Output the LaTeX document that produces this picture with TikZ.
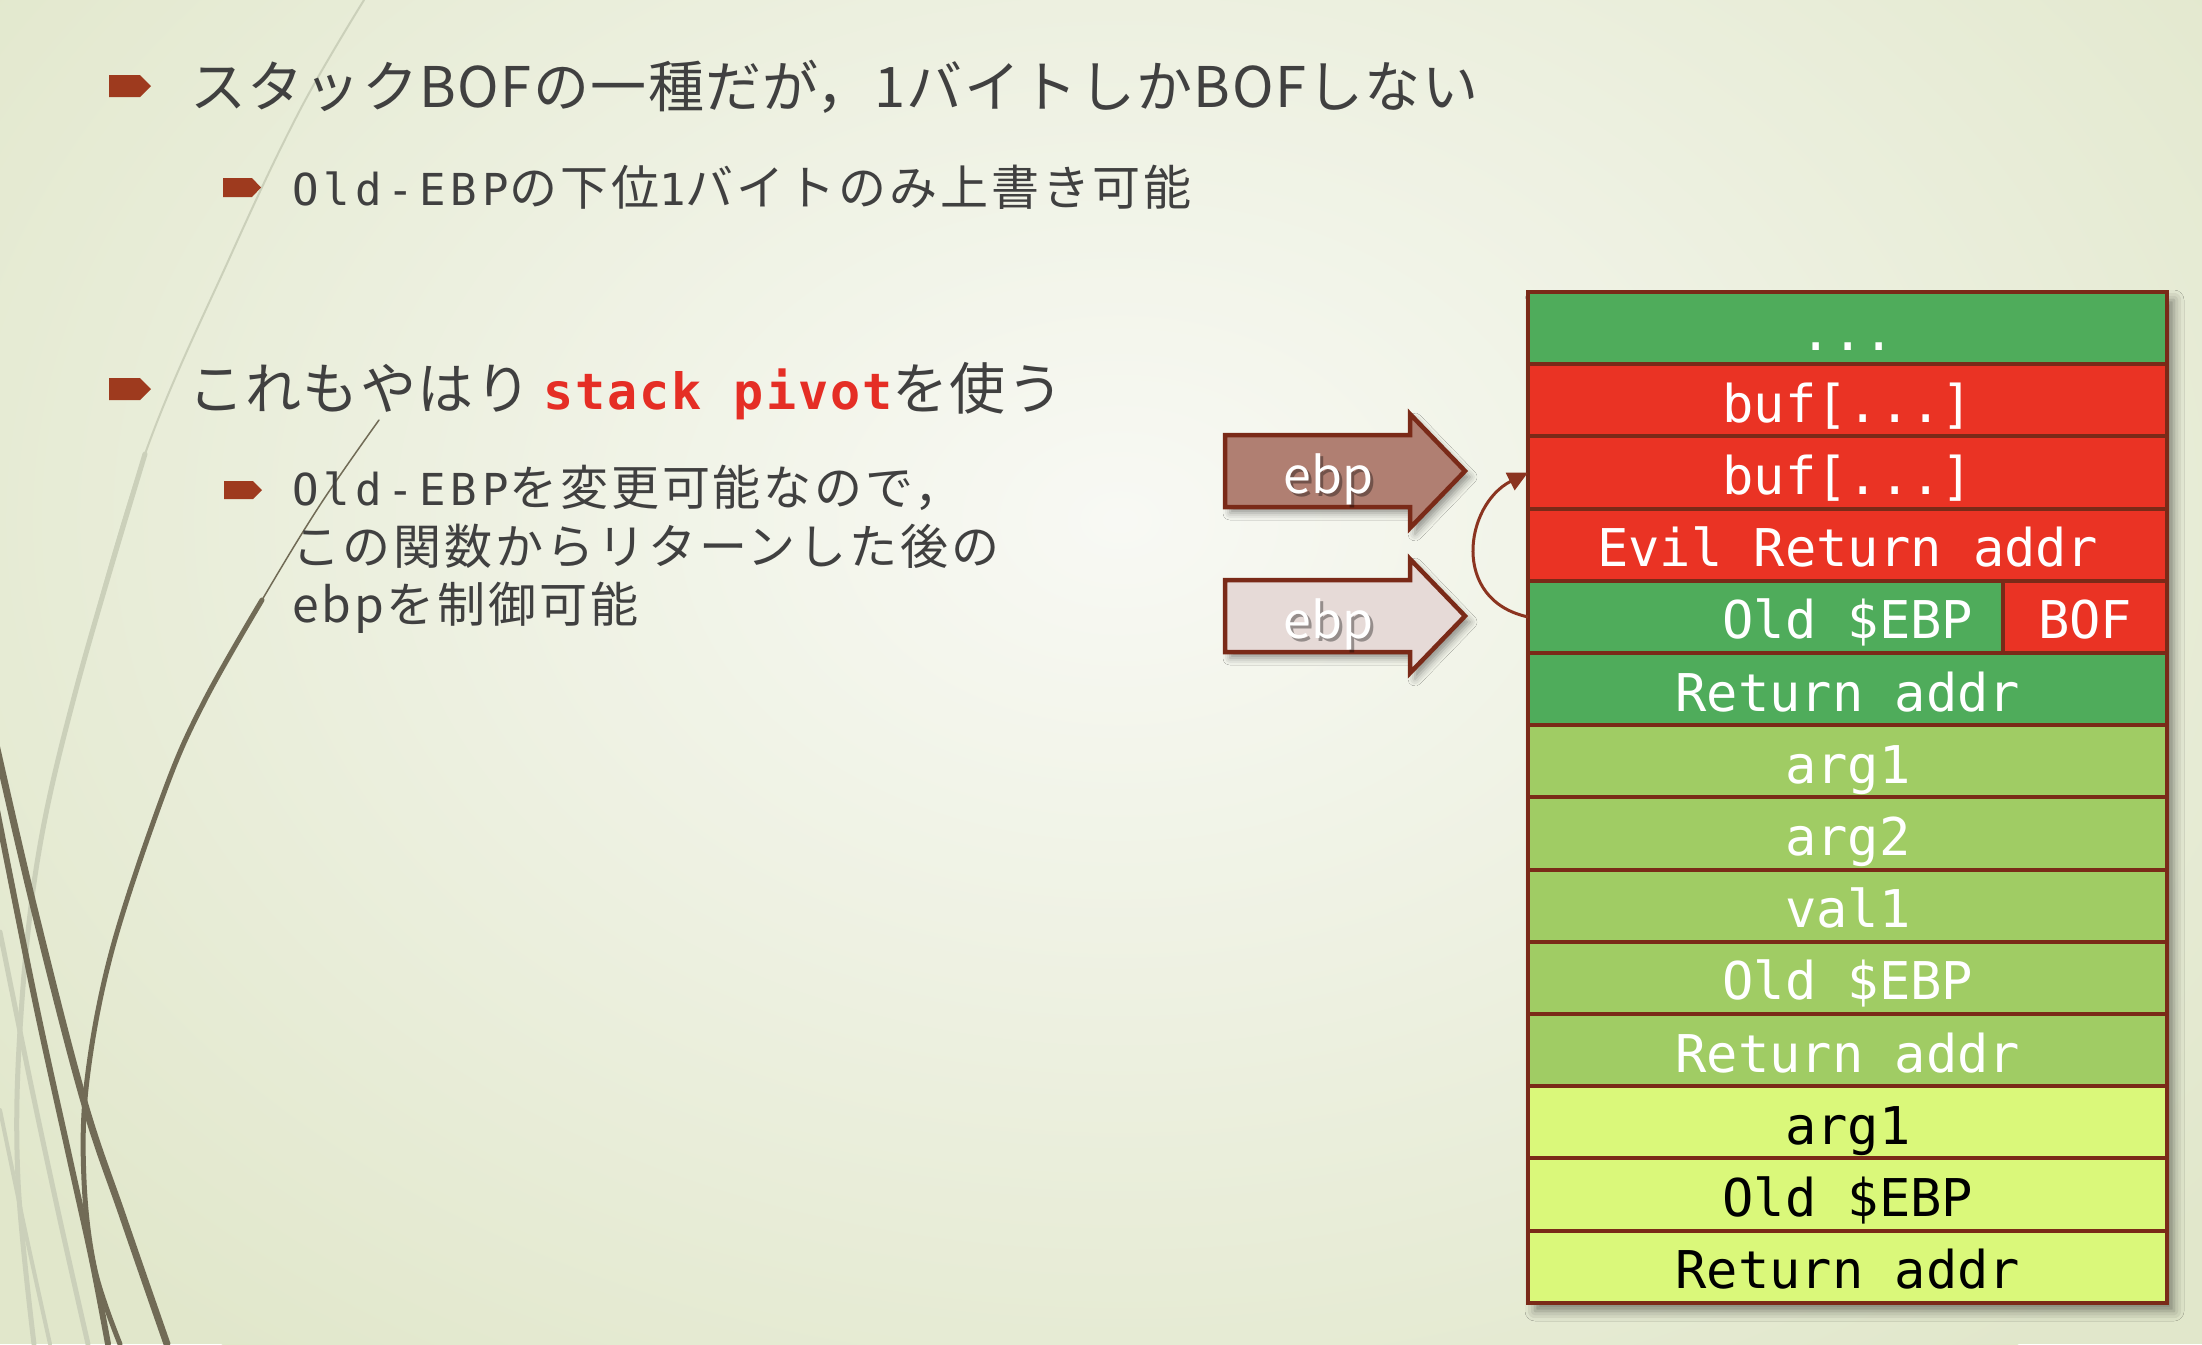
\documentclass[tikz,border=0pt]{standalone}
\usepackage{fontspec}
\usetikzlibrary{arrows.meta,shadows.blur}

% fonts
\newfontfamily\jpbig[LetterSpace=2.5]{Noto Sans CJK JP}
\newfontfamily\jpsmall[LetterSpace=6]{Noto Sans CJK JP}
\newfontfamily\jpplain{Noto Sans CJK JP}
\newfontfamily\monosmall[LetterSpace=12]{DejaVu Sans Mono}
\newfontfamily\monobig[LetterSpace=4]{DejaVu Sans Mono Bold}
\newfontfamily\stackmono{DejaVu Sans Mono}

\newcommand\sizeA{\fontsize{15.93pt}{18pt}\selectfont}
\newcommand\sizeB{\fontsize{13.66pt}{16pt}\selectfont}
\newcommand\sizeBm{\fontsize{12.52pt}{15pt}\selectfont}
\newcommand\sizeAm{\fontsize{14.23pt}{17pt}\selectfont}
\newcommand\sizeEbp{\fontsize{14.23pt}{17pt}\selectfont}
\newcommand\sizeStack{\fontsize{14.8pt}{17pt}\selectfont}

\newcommand\lvlA{\jpbig\sizeA}
\newcommand\lvlB{\jpsmall\sizeB}
\newcommand\codeB[1]{{\monosmall\sizeBm #1}}
\newcommand\codeA[1]{{\monobig\sizeAm #1}}

\definecolor{bgedge}{HTML}{E1E7CB}
\definecolor{bgmid}{HTML}{F8F9F4}
\definecolor{bodytext}{HTML}{404040}
\definecolor{bulletc}{HTML}{9E3A1E}
\definecolor{hotred}{HTML}{E52E25}
\definecolor{stackline}{HTML}{7A2A18}
\definecolor{cgreen}{HTML}{4FAC5B}
\definecolor{cred}{HTML}{EA3324}
\definecolor{clight}{HTML}{A0CC64}
\definecolor{cyellow}{HTML}{DAF87A}
\definecolor{arrowdark}{HTML}{B07F72}
\definecolor{arrowpale}{HTML}{E6DAD7}
\definecolor{wispdark}{HTML}{716B56}
\definecolor{wisplight}{HTML}{CBD0BA}
\definecolor{curvec}{HTML}{8B3420}

\tikzset{
  bullet/.style={fill=bulletc, draw=none},
  linetext/.style={anchor=base west, inner sep=0pt, outer sep=0pt, text=bodytext},
  row/.style={draw=stackline, line width=0.04cm, minimum width=6.39cm,
    minimum height=0.722cm, inner sep=0pt, outer sep=0pt, anchor=north west,
    font=\stackmono\sizeStack, text height=0.44cm, text depth=0cm},
  toprow/.style={row, fill=cgreen, text=white},
  redrow/.style={row, fill=cred, text=white},
  lightrow/.style={row, fill=clight, text=white},
  yellowrow/.style={row, fill=cyellow, text=black},
  blockarrow/.style={draw=stackline, line width=0.045cm, line join=miter,
    blur shadow={shadow xshift=0.05cm, shadow yshift=-0.06cm,
      shadow blur radius=0.07cm, shadow opacity=40}},
  ebptext/.style={anchor=base west, inner sep=0pt, text=white, font=\jpplain\sizeEbp},
  ebpshade/.style={anchor=base west, inner sep=0pt, text=black, opacity=0.35, font=\jpplain\sizeEbp},
  curvearrow/.style={draw=curvec, line width=0.03cm,
    -{Triangle[length=0.2cm,width=0.19cm]}},
  wisp/.style={line cap=round, line join=round},
}

\begin{document}
\begin{tikzpicture}[x=0.01cm, y=-0.01cm]
\useasboundingbox (0,0) rectangle (2202,1344);

% slide background
\begin{scope}
  \clip (0,0) rectangle (2202,1344);
  \fill[bgedge] (0,0) rectangle (2202,1344);
  \shade[inner color=bgmid, outer color=bgedge] (1120,520) ellipse [x radius=1450, y radius=1050];

  % decorative wisps
  \draw[wisp, wisplight, line width=0.02cm] plot[smooth, tension=0.6] coordinates
    {(364,0) (300,110) (230,257) (145,454) (77,686) (38,857) (20,1030) (18,1180) (34,1344)};
  \draw[wisp, wisplight, line width=0.05cm] plot[smooth, tension=0.6] coordinates
    {(145,454) (77,686) (38,857) (20,1030) (18,1180) (34,1344)};
  \draw[wisp, wisplight, line width=0.05cm] plot[smooth, tension=0.6] coordinates
    {(0,932) (30,1080) (60,1220) (88,1344)};
  \draw[wisp, wisplight, line width=0.04cm] plot[smooth, tension=0.6] coordinates
    {(0,1110) (25,1230) (50,1344)};
  \draw[wisp, wispdark, line width=0.015cm] plot[smooth, tension=0.6] coordinates
    {(379,420) (320,505) (262,600) (205,700) (165,790)};
  \draw[wisp, wispdark, line width=0.05cm] plot[smooth, tension=0.6] coordinates
    {(262,600) (205,700) (165,790) (112,950) (87,1080) (84,1180) (95,1270) (120,1344)};
  \draw[wisp, wispdark, line width=0.07cm] plot[smooth, tension=0.6] coordinates
    {(-5,740) (33,904) (83,1098) (123,1217) (167,1344)};
  \draw[wisp, wispdark, line width=0.06cm] plot[smooth, tension=0.6] coordinates
    {(-5,800) (35,1000) (70,1160) (92,1260) (108,1344)};
\end{scope}

% bullets
\fill[bullet] (109,75) -- (140,75) -- (151,86) -- (140,97) -- (109,97) -- cycle;
\fill[bullet] (223,178) -- (252,178) -- (261,187.5) -- (252,197) -- (223,197) -- cycle;
\fill[bullet] (109,378) -- (140,378) -- (151,389) -- (140,400) -- (109,400) -- cycle;
\fill[bullet] (224,481) -- (253,481) -- (262,490) -- (253,499) -- (224,499) -- cycle;

% bullet texts
\node[linetext] (t1) at (190,107) {\lvlA スタックBOFの一種だが，1バイトしかBOFしない};
\node[linetext] (t2) at (292,205) {\lvlB\codeB{Old-EBP}の下位\codeB{1}バイトのみ上書き可能};
\node[linetext] (t3) at (188,409) {\lvlA これもやはり\hspace{0.12cm}\textcolor{hotred}{\codeA{stack pivot}}を使う};
\node[linetext] (t4) at (292,505) {\lvlB\codeB{Old-EBP}を変更可能なので，};
\node[linetext] (t5) at (292,564) {\lvlB この関数からリターンした後の};
\node[linetext] (t6) at (292,622) {\lvlB ebpを制御可能};

% stack frame shadow
\fill[white, blur shadow={shadow xshift=0.07cm, shadow yshift=-0.08cm,
  shadow blur radius=0.1cm, shadow opacity=45}] (1528,292) rectangle (2167,1303);

% stack rows
\node[toprow]    (r0)  at (1528,292.0)  {...};
\node[redrow]    (r1)  at (1528,364.2)  {buf[...]};
\node[redrow]    (r2)  at (1528,436.4)  {buf[...]};
\node[redrow]    (r3)  at (1528,508.6)  {Evil Return addr};
\node[toprow]    (r4)  at (1528,580.8)  {Old \$EBP};
\node[redrow, minimum width=1.64cm] (bof) at (2003,580.8) {BOF};
\node[toprow]    (r5)  at (1528,653.0)  {Return addr};
\node[lightrow]  (r6)  at (1528,725.2)  {arg1};
\node[lightrow]  (r7)  at (1528,797.4)  {arg2};
\node[lightrow]  (r8)  at (1528,869.6)  {val1};
\node[lightrow]  (r9)  at (1528,941.8)  {Old \$EBP};
\node[lightrow]  (r10) at (1528,1014.0) {Return addr};
\node[yellowrow] (r11) at (1528,1086.2) {arg1};
\node[yellowrow] (r12) at (1528,1158.4) {Old \$EBP};
\node[yellowrow] (r13) at (1528,1230.6) {Return addr};

% ebp pointers
\draw[blockarrow, fill=arrowdark] (1225,435) -- (1410,435) -- (1410,414) -- (1465,471)
  -- (1410,528) -- (1410,507) -- (1225,507) -- cycle;
\draw[blockarrow, fill=arrowpale] (1225,580) -- (1410,580) -- (1410,559) -- (1465,616)
  -- (1410,673) -- (1410,652) -- (1225,652) -- cycle;
\node[ebpshade] (e1s) at (1286,496) {ebp};
\node[ebptext]  (e1)  at (1283,493) {ebp};
\node[ebpshade] (e2s) at (1286,641) {ebp};
\node[ebptext]  (e2)  at (1283,638) {ebp};

% saved frame pointer now points into the buffer
\draw[curvearrow] (r4.west) .. controls +(-78,-17) and +(-63,32) .. (r2.west);
\end{tikzpicture}
\end{document}
